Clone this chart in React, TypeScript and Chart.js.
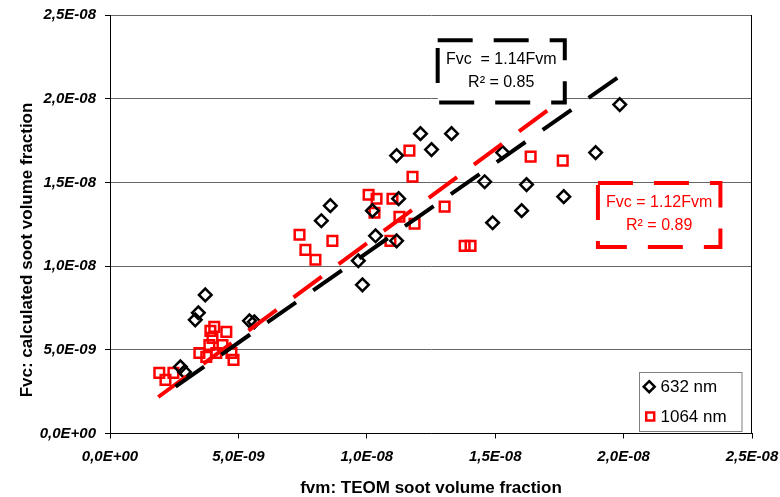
import React, { useEffect, useRef } from "react";
import { Chart, registerables } from "chart.js";

Chart.register(...registerables);

// All values below are in units of 1e-9 (volume fraction); labels are shown in E-notation
const UNIT = 1e-9;

// 632 nm series
const x632 = [19.85, 18.91, 17.67, 16.22, 16.03, 14.9, 14.59, 15.29, 13.3, 12.09, 12.52, 11.16, 11.24, 10.22, 10.34, 11.16, 9.67, 9.83, 8.58, 8.23, 3.71, 3.44, 3.32, 5.43, 5.62, 2.74, 2.9];
const y632 = [19.65, 16.78, 14.15, 14.87, 13.31, 12.59, 15.04, 16.78, 17.91, 17.91, 16.96, 16.6, 14.03, 13.31, 11.81, 11.51, 10.32, 8.88, 13.61, 12.71, 8.28, 7.21, 6.79, 6.73, 6.67, 3.98, 3.68];

// 1064 nm series
const x1064 = [1.92, 2.16, 2.47, 3.48, 3.75, 3.87, 3.99, 3.91, 4.06, 4.53, 4.14, 4.38, 4.73, 4.81, 7.38, 7.61, 8.0, 8.66, 10.07, 10.38, 11.0, 10.3, 10.92, 11.27, 11.66, 11.78, 11.86, 13.03, 13.81, 14.04, 16.38, 17.63];
const y1064 = [3.62, 3.2, 3.62, 4.81, 4.58, 5.29, 5.71, 6.13, 6.37, 6.07, 4.81, 5.29, 4.81, 4.4, 11.87, 10.97, 10.38, 11.51, 14.26, 14.02, 14.02, 13.19, 11.51, 12.95, 16.9, 15.34, 12.53, 13.55, 11.21, 11.21, 16.54, 16.3];

// Trendline end points
const trend632X = [2.55, 19.85];
const trend632Y = [2.8, 21.35];
const trend1064X = [1.88, 17.08];
const trend1064Y = [2.18, 19.35];

// Axis ticks (same for both axes)
const tickValues = [0, 5, 10, 15, 20, 25];

// Annotation texts
const note632 = ["Fvc  = 1.14Fvm", "R\u00B2 = 0.85"];
const note1064 = ["Fvc = 1.12Fvm", "R\u00B2 = 0.89"];
const legendLabels = ["632 nm", "1064 nm"];
const xTitle = "fvm: TEOM soot volume fraction";
const yTitle = "Fvc: calculated soot volume fraction";

const FONT = "'Liberation Sans', Arial, Helvetica, sans-serif";
const RED = "#ff0000";

function fmtExp(v: number): string {
  const real = v * UNIT;
  if (Math.abs(real) < 1e-20) return "0,0E+00";
  const s = real.toExponential(1); // e.g. "2.5e-8"
  const [m, e] = s.split("e");
  const ev = parseInt(e, 10);
  const sign = ev < 0 ? "-" : "+";
  const abs = Math.abs(ev);
  return m.replace(".", ",") + "E" + sign + (abs < 10 ? "0" + abs : String(abs));
}

function pts(xs: number[], ys: number[]) {
  return xs.map((xv, i) => ({ x: xv, y: ys[i] }));
}

function dashedBox(ctx: CanvasRenderingContext2D, x0: number, y0: number, x1: number, y1: number, color: string) {
  ctx.save();
  ctx.fillStyle = "#ffffff";
  ctx.fillRect(x0, y0, x1 - x0, y1 - y0);
  ctx.strokeStyle = color;
  ctx.lineWidth = 4;
  ctx.setLineDash([35, 21]);
  ctx.lineCap = "butt";
  ctx.beginPath();
  ctx.moveTo(x0, y0);
  ctx.lineTo(x1, y0);
  ctx.lineTo(x1, y1);
  ctx.lineTo(x0, y1);
  ctx.closePath();
  ctx.stroke();
  ctx.restore();
}

const overlayPlugin = {
  id: "overlay",
  afterDatasetsDraw(chart: any) {
    const { ctx, chartArea } = chart;
    const xs = chart.scales.x;
    const ys = chart.scales.y;
    const px = (v: number) => xs.getPixelForValue(v);
    const py = (v: number) => ys.getPixelForValue(v);

    // right border of plot area
    ctx.save();
    ctx.strokeStyle = "#000";
    ctx.lineWidth = 1;
    ctx.beginPath();
    const rx = Math.round(chartArea.right) - 0.5;
    ctx.moveTo(rx, chartArea.top);
    ctx.lineTo(rx, chartArea.bottom);
    ctx.stroke();
    ctx.restore();

    // annotation boxes (positioned in data coordinates)
    const b1 = { x0: px(12.76), x1: px(17.71), y0: py(23.49), y1: py(19.77) };
    dashedBox(ctx, b1.x0, b1.y0, b1.x1, b1.y1, "#000");
    const b2 = { x0: px(19.0), x1: px(23.77), y0: py(14.96), y1: py(11.14) };
    dashedBox(ctx, b2.x0, b2.y0, b2.x1, b2.y1, RED);

    ctx.save();
    ctx.font = `16px ${FONT}`;
    ctx.textAlign = "center";
    ctx.textBaseline = "middle";
    ctx.fillStyle = "#000";
    const c1 = (b1.x0 + b1.x1) / 2;
    ctx.fillText(note632[0], c1, b1.y0 + 19.5);
    ctx.fillText(note632[1], c1, b1.y0 + 42.5);
    ctx.fillStyle = RED;
    const c2 = (b2.x0 + b2.x1) / 2;
    ctx.fillText(note1064[0], c2, b2.y0 + 19.5);
    ctx.fillText(note1064[1], c2, b2.y0 + 42.5);
    ctx.restore();

    // legend
    const lx = chartArea.right - 113.5;
    const ly = chartArea.bottom - 62;
    const lw = 102.5;
    const lh = 59;
    ctx.save();
    ctx.fillStyle = "#fff";
    ctx.fillRect(lx, ly, lw, lh);
    ctx.strokeStyle = "#808080";
    ctx.lineWidth = 1;
    ctx.strokeRect(Math.round(lx) + 0.5, Math.round(ly) + 0.5, lw, lh);
    // diamond
    const dx = lx + 10.7, dy = ly + 15.2, r = 5.5;
    ctx.strokeStyle = "#000";
    ctx.lineWidth = 2.5;
    ctx.beginPath();
    ctx.moveTo(dx, dy - r);
    ctx.lineTo(dx + r, dy);
    ctx.lineTo(dx, dy + r);
    ctx.lineTo(dx - r, dy);
    ctx.closePath();
    ctx.stroke();
    // square
    const sx = lx + 11.7, sy = ly + 45, h = 4;
    ctx.strokeStyle = RED;
    ctx.strokeRect(sx - h, sy - h, 2 * h, 2 * h);
    ctx.fillStyle = "#000";
    ctx.font = `17px ${FONT}`;
    ctx.textAlign = "left";
    ctx.textBaseline = "middle";
    ctx.fillText(legendLabels[0], lx + 22, dy + 0.5);
    ctx.fillText(legendLabels[1], lx + 22, sy + 0.5);
    ctx.restore();
  },
  afterDraw(chart: any) {
    const { ctx, chartArea } = chart;
    ctx.save();
    ctx.fillStyle = "#000";
    ctx.font = `bold 17px ${FONT}`;
    ctx.textAlign = "center";
    ctx.textBaseline = "middle";
    ctx.fillText(xTitle, (chartArea.left + chartArea.right) / 2, 488);
    ctx.translate(27, 250);
    ctx.rotate(-Math.PI / 2);
    ctx.fillText(yTitle, 0, 0);
    ctx.restore();
  },
};

export default function App() {
  const ref = useRef<HTMLCanvasElement | null>(null);

  useEffect(() => {
    document.body.style.margin = "0";
    const canvas = ref.current;
    if (!canvas) return;

    const tickFont = { family: FONT, size: 15, weight: "bold" as const, style: "italic" as const };
    const setTicks = (s: any) => {
      s.ticks = tickValues.map((v) => ({ value: v }));
    };

    const chart = new Chart(canvas, {
      type: "scatter",
      data: {
        datasets: [
          {
            label: "trend 632",
            data: pts(trend632X, trend632Y),
            showLine: true,
            borderColor: "#000",
            borderWidth: 4,
            borderDash: [35, 21],
            pointRadius: 0,
            fill: false,
          } as any,
          {
            label: "trend 1064",
            data: pts(trend1064X, trend1064Y),
            showLine: true,
            borderColor: RED,
            borderWidth: 4,
            borderDash: [35, 21],
            pointRadius: 0,
            fill: false,
          } as any,
          {
            label: legendLabels[0],
            data: pts(x632, y632),
            pointStyle: "rectRot",
            pointRadius: 6.3,
            borderWidth: 2.5,
            borderColor: "#000",
            backgroundColor: "rgba(255,255,255,0)",
          },
          {
            label: legendLabels[1],
            data: pts(x1064, y1064),
            pointStyle: "rect",
            pointRadius: 6.8,
            borderWidth: 2.5,
            borderColor: RED,
            backgroundColor: "rgba(255,255,255,0)",
          },
        ],
      },
      options: {
        responsive: false,
        animation: false,
        events: [],
        layout: { padding: { top: 15, right: 28, bottom: 0, left: 0 } },
        plugins: {
          legend: { display: false },
          tooltip: { enabled: false },
          title: { display: false },
        },
        scales: {
          x: {
            type: "linear",
            min: tickValues[0],
            max: tickValues[tickValues.length - 1],
            afterBuildTicks: setTicks,
            ticks: {
              callback: (v: any) => fmtExp(Number(v)),
              font: tickFont,
              color: "#000",
              padding: 9.5,
              maxRotation: 0,
              autoSkip: false,
            },
            grid: {
              display: true,
              drawOnChartArea: false,
              drawTicks: true,
              tickLength: 5,
              tickColor: "#000",
            },
            border: { display: true, color: "#000", width: 1 },
            afterFit: (s: any) => {
              s.height = 63.5;
              s.paddingLeft = 0;
              s.paddingRight = 0;
            },
          },
          y: {
            type: "linear",
            min: tickValues[0],
            max: tickValues[tickValues.length - 1],
            afterBuildTicks: setTicks,
            ticks: {
              callback: (v: any) => fmtExp(Number(v)),
              font: tickFont,
              color: "#000",
              padding: 9,
              autoSkip: false,
            },
            grid: {
              display: true,
              color: "#666666",
              lineWidth: 1,
              drawTicks: true,
              tickLength: 5,
              tickColor: "#000",
            },
            border: { display: true, color: "#000", width: 1 },
            afterFit: (s: any) => {
              s.width = 110;
              s.paddingTop = 0;
              s.paddingBottom = 0;
            },
          },
        },
      },
      plugins: [overlayPlugin],
    });

    return () => chart.destroy();
  }, []);

  return (
    <div style={{ width: 780, height: 497, background: "#fff" }}>
      <canvas ref={ref} width={780} height={497} style={{ display: "block" }} />
    </div>
  );
}
